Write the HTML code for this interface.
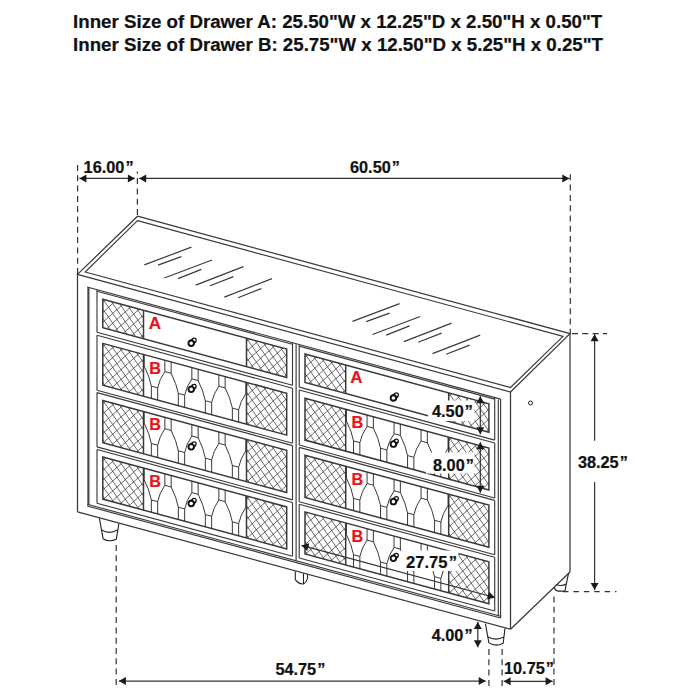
<!DOCTYPE html>
<html><head><meta charset="utf-8"><style>
html,body{margin:0;padding:0;background:#fff;width:700px;height:700px;overflow:hidden}
svg{display:block}
text{font-family:"Liberation Sans",sans-serif;font-weight:bold;stroke-width:0.22px}
</style></head><body>
<svg width="700" height="700" viewBox="0 0 700 700">
<defs><clipPath id="cl1"><polygon points="102.8,299.18 143.5,310.21 143.5,338.71 102.8,327.68"/></clipPath><clipPath id="cl2"><polygon points="246.5,338.13 286.7,349.02 286.7,377.52 246.5,366.63"/></clipPath><clipPath id="cl3"><polygon points="102.8,343.38 143.5,354.41 143.5,396.31 102.8,385.28"/></clipPath><clipPath id="cl4"><polygon points="246.5,382.33 286.7,393.22 286.7,435.12 246.5,424.23"/></clipPath><clipPath id="cl5"><polygon points="143.5,354.41 246.5,382.33 246.5,424.23 143.5,396.31"/></clipPath><clipPath id="cl6"><polygon points="102.8,400.48 143.5,411.51 143.5,453.71 102.8,442.68"/></clipPath><clipPath id="cl7"><polygon points="246.5,439.43 286.7,450.32 286.7,492.52 246.5,481.63"/></clipPath><clipPath id="cl8"><polygon points="143.5,411.51 246.5,439.43 246.5,481.63 143.5,453.71"/></clipPath><clipPath id="cl9"><polygon points="102.8,457.08 143.5,468.11 143.5,510.11 102.8,499.08"/></clipPath><clipPath id="cl10"><polygon points="246.5,496.03 286.7,506.92 286.7,548.92 246.5,538.03"/></clipPath><clipPath id="cl11"><polygon points="143.5,468.11 246.5,496.03 246.5,538.03 143.5,510.11"/></clipPath><clipPath id="cl12"><polygon points="305,353.98 345.7,365.01 345.7,393.51 305,382.48"/></clipPath><clipPath id="cl13"><polygon points="448.7,392.92 488.9,403.82 488.9,432.32 448.7,421.42"/></clipPath><clipPath id="cl14"><polygon points="305,398.18 345.7,409.21 345.7,451.11 305,440.08"/></clipPath><clipPath id="cl15"><polygon points="448.7,437.12 488.9,448.02 488.9,489.92 448.7,479.02"/></clipPath><clipPath id="cl16"><polygon points="345.7,409.21 448.7,437.12 448.7,479.02 345.7,451.11"/></clipPath><clipPath id="cl17"><polygon points="305,455.28 345.7,466.31 345.7,508.51 305,497.48"/></clipPath><clipPath id="cl18"><polygon points="448.7,494.22 488.9,505.12 488.9,547.32 448.7,536.42"/></clipPath><clipPath id="cl19"><polygon points="345.7,466.31 448.7,494.22 448.7,536.42 345.7,508.51"/></clipPath><clipPath id="cl20"><polygon points="305,511.88 345.7,522.91 345.7,564.91 305,553.88"/></clipPath><clipPath id="cl21"><polygon points="448.7,550.82 488.9,561.72 488.9,603.72 448.7,592.82"/></clipPath><clipPath id="cl22"><polygon points="345.7,522.91 448.7,550.82 448.7,592.82 345.7,564.91"/></clipPath></defs>
<polygon points="137.5,216.2 570,333.6 510.5,392 77.5,274.4" fill="none" stroke="#3a3a3a" stroke-width="1.265" stroke-linejoin="miter"/>
<polygon points="137.5,220.6 563,336.4 510.5,387.5 85.2,272" fill="none" stroke="#3a3a3a" stroke-width="1.15" stroke-linejoin="miter"/>
<line x1="144.3" y1="264.9" x2="191.4" y2="247.1" stroke="#3a3a3a" stroke-width="1.15" />
<line x1="158" y1="265.1" x2="181.4" y2="256.6" stroke="#3a3a3a" stroke-width="1.15" />
<line x1="164.3" y1="278" x2="212" y2="260" stroke="#3a3a3a" stroke-width="1.15" />
<line x1="178" y1="278.6" x2="201.4" y2="269.4" stroke="#3a3a3a" stroke-width="1.15" />
<line x1="195.7" y1="285.1" x2="243.4" y2="266.6" stroke="#3a3a3a" stroke-width="1.15" />
<line x1="210" y1="285.7" x2="233.4" y2="276.6" stroke="#3a3a3a" stroke-width="1.15" />
<line x1="224.3" y1="297.1" x2="272" y2="278.6" stroke="#3a3a3a" stroke-width="1.15" />
<line x1="238" y1="297.7" x2="261.4" y2="288.6" stroke="#3a3a3a" stroke-width="1.15" />
<line x1="352.5" y1="321.4" x2="399.6" y2="303.6" stroke="#3a3a3a" stroke-width="1.15" />
<line x1="366.2" y1="321.6" x2="389.6" y2="313.1" stroke="#3a3a3a" stroke-width="1.15" />
<line x1="372.5" y1="334.5" x2="420.2" y2="316.5" stroke="#3a3a3a" stroke-width="1.15" />
<line x1="386.2" y1="335.1" x2="409.6" y2="325.9" stroke="#3a3a3a" stroke-width="1.15" />
<line x1="403.9" y1="341.6" x2="451.6" y2="323.1" stroke="#3a3a3a" stroke-width="1.15" />
<line x1="418.2" y1="342.2" x2="441.6" y2="333.1" stroke="#3a3a3a" stroke-width="1.15" />
<line x1="432.5" y1="353.6" x2="480.2" y2="335.1" stroke="#3a3a3a" stroke-width="1.15" />
<line x1="446.2" y1="354.2" x2="469.6" y2="345.1" stroke="#3a3a3a" stroke-width="1.15" />
<line x1="77.5" y1="274.43" x2="77.5" y2="511.83" stroke="#3a3a3a" stroke-width="1.265" />
<line x1="510.5" y1="391.77" x2="510.5" y2="629.17" stroke="#3a3a3a" stroke-width="1.265" />
<line x1="77.5" y1="511.83" x2="510.5" y2="629.17" stroke="#3a3a3a" stroke-width="1.265" />
<line x1="570" y1="333.6" x2="570" y2="572" stroke="#3a3a3a" stroke-width="1.265" />
<line x1="510.5" y1="629.17" x2="570" y2="572" stroke="#3a3a3a" stroke-width="1.265" />
<circle cx="530.5" cy="403" r="2" fill="none" stroke="#222" stroke-width="1"/>
<line x1="88.4" y1="287.38" x2="88.4" y2="505.38" stroke="#4a4a4a" stroke-width="2.1849999999999996" />
<line x1="87.1" y1="287.03" x2="500.6" y2="399.09" stroke="#3a3a3a" stroke-width="1.15" />
<line x1="500.6" y1="399.09" x2="500.6" y2="617.99" stroke="#3a3a3a" stroke-width="1.15" />
<line x1="498.3" y1="399.46" x2="498.3" y2="616.16" stroke="#3a3a3a" stroke-width="1.15" />
<line x1="87.1" y1="504.23" x2="500.6" y2="616.29" stroke="#3a3a3a" stroke-width="1.15" />
<line x1="87.1" y1="505.93" x2="500.6" y2="617.99" stroke="#3a3a3a" stroke-width="1.15" />
<line x1="296.1" y1="344.17" x2="296.1" y2="560.87" stroke="#3a3a3a" stroke-width="1.15" />
<line x1="97" y1="289.71" x2="97" y2="332.31" stroke="#3a3a3a" stroke-width="1.15" />
<line x1="292.5" y1="342.69" x2="292.5" y2="385.29" stroke="#3a3a3a" stroke-width="1.15" />
<line x1="97" y1="291.31" x2="292.5" y2="344.29" stroke="#3a3a3a" stroke-width="1.15" />
<line x1="97" y1="332.31" x2="292.5" y2="385.29" stroke="#3a3a3a" stroke-width="1.15" />
<path d="M100.8,227.66L145.5,291.92M100.8,237.46L145.5,301.72M100.8,247.26L145.5,311.52M100.8,257.06L145.5,321.32M100.8,266.86L145.5,331.12M100.8,276.66L145.5,340.92M100.8,286.46L145.5,350.72M100.8,296.26L145.5,360.52M100.8,306.06L145.5,370.32M100.8,315.86L145.5,380.12M100.8,325.66L145.5,389.92M100.8,335.46L145.5,399.72M100.8,345.26L145.5,409.52M100.8,284.82L145.5,244.79M100.8,294.62L145.5,254.59M100.8,304.42L145.5,264.39M100.8,314.22L145.5,274.19M100.8,324.02L145.5,283.99M100.8,333.82L145.5,293.79M100.8,343.62L145.5,303.59M100.8,353.42L145.5,313.39M100.8,363.22L145.5,323.19M100.8,373.02L145.5,332.99M100.8,382.82L145.5,342.79M100.8,392.62L145.5,352.59" stroke="#3a3a3a" stroke-width="0.75" fill="none" clip-path="url(#cl1)"/>
<path d="M244.5,266.6L288.7,330.15M244.5,276.4L288.7,339.95M244.5,286.2L288.7,349.75M244.5,296L288.7,359.55M244.5,305.8L288.7,369.35M244.5,315.6L288.7,379.15M244.5,325.4L288.7,388.95M244.5,335.2L288.7,398.75M244.5,345L288.7,408.55M244.5,354.8L288.7,418.35M244.5,364.6L288.7,428.15M244.5,374.4L288.7,437.95M244.5,384.2L288.7,447.75M244.5,323.77L288.7,284.18M244.5,333.57L288.7,293.98M244.5,343.37L288.7,303.78M244.5,353.17L288.7,313.58M244.5,362.97L288.7,323.38M244.5,372.77L288.7,333.18M244.5,382.57L288.7,342.98M244.5,392.37L288.7,352.78M244.5,402.17L288.7,362.58M244.5,411.97L288.7,372.38M244.5,421.77L288.7,382.18M244.5,431.57L288.7,391.98" stroke="#3a3a3a" stroke-width="0.75" fill="none" clip-path="url(#cl2)"/>
<polygon points="102.8,299.18 286.7,349.02 286.7,377.52 102.8,327.68" fill="none" stroke="#3a3a3a" stroke-width="1.4949999999999999" stroke-linejoin="miter"/>
<line x1="143.5" y1="310.21" x2="143.5" y2="338.71" stroke="#3a3a3a" stroke-width="1.4949999999999999" />
<line x1="246.5" y1="338.13" x2="246.5" y2="366.63" stroke="#3a3a3a" stroke-width="1.4949999999999999" />
<circle cx="194.2" cy="340.14" r="1.95" fill="#fff" stroke="#111" stroke-width="1.25"/>
<path d="M193.18,345.15L195.6,341.5M189.22,341.33L192.8,338.78" stroke="#111" stroke-width="1.25" fill="none"/>
<circle cx="191.2" cy="343.24" r="2.75" fill="#fff" stroke="#111" stroke-width="1.9"/>
<line x1="97" y1="335.21" x2="97" y2="390.21" stroke="#3a3a3a" stroke-width="1.15" />
<line x1="292.5" y1="388.19" x2="292.5" y2="443.19" stroke="#3a3a3a" stroke-width="1.15" />
<line x1="97" y1="335.21" x2="292.5" y2="388.19" stroke="#3a3a3a" stroke-width="1.15" />
<line x1="97" y1="390.21" x2="292.5" y2="443.19" stroke="#3a3a3a" stroke-width="1.15" />
<path d="M100.8,271.86L145.5,336.12M100.8,281.66L145.5,345.92M100.8,291.46L145.5,355.72M100.8,301.26L145.5,365.52M100.8,311.06L145.5,375.32M100.8,320.86L145.5,385.12M100.8,330.66L145.5,394.92M100.8,340.46L145.5,404.72M100.8,350.26L145.5,414.52M100.8,360.06L145.5,424.32M100.8,369.86L145.5,434.12M100.8,379.66L145.5,443.92M100.8,389.46L145.5,453.72M100.8,399.26L145.5,463.52M100.8,329.02L145.5,288.99M100.8,338.82L145.5,298.79M100.8,348.62L145.5,308.59M100.8,358.42L145.5,318.39M100.8,368.22L145.5,328.19M100.8,378.02L145.5,337.99M100.8,387.82L145.5,347.79M100.8,397.62L145.5,357.59M100.8,407.42L145.5,367.39M100.8,417.22L145.5,377.19M100.8,427.02L145.5,386.99M100.8,436.82L145.5,396.79M100.8,446.62L145.5,406.59M100.8,456.42L145.5,416.39" stroke="#3a3a3a" stroke-width="0.75" fill="none" clip-path="url(#cl3)"/>
<path d="M244.5,310.8L288.7,374.35M244.5,320.6L288.7,384.15M244.5,330.4L288.7,393.95M244.5,340.2L288.7,403.75M244.5,350L288.7,413.55M244.5,359.8L288.7,423.35M244.5,369.6L288.7,433.15M244.5,379.4L288.7,442.95M244.5,389.2L288.7,452.75M244.5,399L288.7,462.55M244.5,408.8L288.7,472.35M244.5,418.6L288.7,482.15M244.5,428.4L288.7,491.95M244.5,438.2L288.7,501.75M244.5,367.97L288.7,328.38M244.5,377.77L288.7,338.18M244.5,387.57L288.7,347.98M244.5,397.37L288.7,357.78M244.5,407.17L288.7,367.58M244.5,416.97L288.7,377.38M244.5,426.77L288.7,387.18M244.5,436.57L288.7,396.98M244.5,446.37L288.7,406.78M244.5,456.17L288.7,416.58M244.5,465.97L288.7,426.38M244.5,475.77L288.7,436.18M244.5,485.57L288.7,445.98" stroke="#3a3a3a" stroke-width="0.75" fill="none" clip-path="url(#cl4)"/>
<polygon points="102.8,343.38 286.7,393.22 286.7,435.12 102.8,385.28" fill="none" stroke="#3a3a3a" stroke-width="1.4949999999999999" stroke-linejoin="miter"/>
<line x1="143.5" y1="354.41" x2="143.5" y2="396.31" stroke="#3a3a3a" stroke-width="1.4949999999999999" />
<line x1="246.5" y1="382.33" x2="246.5" y2="424.23" stroke="#3a3a3a" stroke-width="1.4949999999999999" />
<path d="M137.85,352.88L137.85,364.28M144.15,354.59L144.15,365.99M137.85,364.28L144.15,365.99M164.85,360.2L164.85,371.6M171.15,361.91L171.15,373.31M164.85,371.6L171.15,373.31M191.85,367.52L191.85,378.92M198.15,369.22L198.15,380.62M191.85,378.92L198.15,380.62M218.85,374.83L218.85,386.23M225.15,376.54L225.15,387.94M218.85,386.23L225.15,387.94M245.85,382.15L245.85,393.55M252.15,383.86L252.15,395.26M245.85,393.55L252.15,395.26M151.35,386.14L151.35,398.44M157.65,387.85L157.65,400.15M151.35,386.14L157.65,387.85M178.35,393.46L178.35,405.76M184.65,395.16L184.65,407.46M178.35,393.46L184.65,395.16M205.35,400.77L205.35,413.07M211.65,402.48L211.65,414.78M205.35,400.77L211.65,402.48M232.35,408.09L232.35,420.39M238.65,409.8L238.65,422.1M232.35,408.09L238.65,409.8M137.85,364.28Q132.45,371.92 130.65,380.53M144.15,365.99Q149.55,376.55 151.35,386.14M164.85,371.6Q159.45,379.24 157.65,387.85M171.15,373.31Q176.55,383.87 178.35,393.46M191.85,378.92Q186.45,386.55 184.65,395.16M198.15,380.62Q203.55,391.19 205.35,400.77M218.85,386.23Q213.45,393.87 211.65,402.48M225.15,387.94Q230.55,398.5 232.35,408.09M245.85,393.55Q240.45,401.19 238.65,409.8M252.15,395.26Q257.55,405.82 259.35,415.41" stroke="#222" stroke-width="0.9" fill="none" clip-path="url(#cl5)"/>
<circle cx="194.2" cy="386.24" r="1.95" fill="#fff" stroke="#111" stroke-width="1.25"/>
<path d="M193.18,391.25L195.6,387.6M189.22,387.43L192.8,384.88" stroke="#111" stroke-width="1.25" fill="none"/>
<circle cx="191.2" cy="389.34" r="2.75" fill="#fff" stroke="#111" stroke-width="1.9"/>
<line x1="97" y1="392.61" x2="97" y2="446.91" stroke="#3a3a3a" stroke-width="1.15" />
<line x1="292.5" y1="445.59" x2="292.5" y2="499.89" stroke="#3a3a3a" stroke-width="1.15" />
<line x1="97" y1="392.61" x2="292.5" y2="445.59" stroke="#3a3a3a" stroke-width="1.15" />
<line x1="97" y1="446.91" x2="292.5" y2="499.89" stroke="#3a3a3a" stroke-width="1.15" />
<path d="M100.8,328.96L145.5,393.22M100.8,338.76L145.5,403.02M100.8,348.56L145.5,412.82M100.8,358.36L145.5,422.62M100.8,368.16L145.5,432.42M100.8,377.96L145.5,442.22M100.8,387.76L145.5,452.02M100.8,397.56L145.5,461.82M100.8,407.36L145.5,471.62M100.8,417.16L145.5,481.42M100.8,426.96L145.5,491.22M100.8,436.76L145.5,501.02M100.8,446.56L145.5,510.82M100.8,456.36L145.5,520.62M100.8,386.12L145.5,346.09M100.8,395.92L145.5,355.89M100.8,405.72L145.5,365.69M100.8,415.52L145.5,375.49M100.8,425.32L145.5,385.29M100.8,435.12L145.5,395.09M100.8,444.92L145.5,404.89M100.8,454.72L145.5,414.69M100.8,464.52L145.5,424.49M100.8,474.32L145.5,434.29M100.8,484.12L145.5,444.09M100.8,493.92L145.5,453.89M100.8,503.72L145.5,463.69M100.8,513.52L145.5,473.49" stroke="#3a3a3a" stroke-width="0.75" fill="none" clip-path="url(#cl6)"/>
<path d="M244.5,367.9L288.7,431.45M244.5,377.7L288.7,441.25M244.5,387.5L288.7,451.05M244.5,397.3L288.7,460.85M244.5,407.1L288.7,470.65M244.5,416.9L288.7,480.45M244.5,426.7L288.7,490.25M244.5,436.5L288.7,500.05M244.5,446.3L288.7,509.85M244.5,456.1L288.7,519.65M244.5,465.9L288.7,529.45M244.5,475.7L288.7,539.25M244.5,485.5L288.7,549.05M244.5,495.3L288.7,558.85M244.5,425.07L288.7,385.48M244.5,434.87L288.7,395.28M244.5,444.67L288.7,405.08M244.5,454.47L288.7,414.88M244.5,464.27L288.7,424.68M244.5,474.07L288.7,434.48M244.5,483.87L288.7,444.28M244.5,493.67L288.7,454.08M244.5,503.47L288.7,463.88M244.5,513.27L288.7,473.68M244.5,523.07L288.7,483.48M244.5,532.87L288.7,493.28M244.5,542.67L288.7,503.08" stroke="#3a3a3a" stroke-width="0.75" fill="none" clip-path="url(#cl7)"/>
<polygon points="102.8,400.48 286.7,450.32 286.7,492.52 102.8,442.68" fill="none" stroke="#3a3a3a" stroke-width="1.4949999999999999" stroke-linejoin="miter"/>
<line x1="143.5" y1="411.51" x2="143.5" y2="453.71" stroke="#3a3a3a" stroke-width="1.4949999999999999" />
<line x1="246.5" y1="439.43" x2="246.5" y2="481.63" stroke="#3a3a3a" stroke-width="1.4949999999999999" />
<path d="M137.85,409.98L137.85,421.38M144.15,411.69L144.15,423.09M137.85,421.38L144.15,423.09M164.85,417.3L164.85,428.7M171.15,419.01L171.15,430.41M164.85,428.7L171.15,430.41M191.85,424.62L191.85,436.02M198.15,426.32L198.15,437.72M191.85,436.02L198.15,437.72M218.85,431.93L218.85,443.33M225.15,433.64L225.15,445.04M218.85,443.33L225.15,445.04M245.85,439.25L245.85,450.65M252.15,440.96L252.15,452.36M245.85,450.65L252.15,452.36M151.35,443.54L151.35,455.84M157.65,445.25L157.65,457.55M151.35,443.54L157.65,445.25M178.35,450.86L178.35,463.16M184.65,452.56L184.65,464.86M178.35,450.86L184.65,452.56M205.35,458.17L205.35,470.47M211.65,459.88L211.65,472.18M205.35,458.17L211.65,459.88M232.35,465.49L232.35,477.79M238.65,467.2L238.65,479.5M232.35,465.49L238.65,467.2M137.85,421.38Q132.45,429.17 130.65,437.93M144.15,423.09Q149.55,433.8 151.35,443.54M164.85,428.7Q159.45,436.49 157.65,445.25M171.15,430.41Q176.55,441.12 178.35,450.86M191.85,436.02Q186.45,443.8 184.65,452.56M198.15,437.72Q203.55,448.44 205.35,458.17M218.85,443.33Q213.45,451.12 211.65,459.88M225.15,445.04Q230.55,455.75 232.35,465.49M245.85,450.65Q240.45,458.44 238.65,467.2M252.15,452.36Q257.55,463.07 259.35,472.81" stroke="#222" stroke-width="0.9" fill="none" clip-path="url(#cl8)"/>
<circle cx="194.2" cy="443.74" r="1.95" fill="#fff" stroke="#111" stroke-width="1.25"/>
<path d="M193.18,448.75L195.6,445.1M189.22,444.93L192.8,442.38" stroke="#111" stroke-width="1.25" fill="none"/>
<circle cx="191.2" cy="446.84" r="2.75" fill="#fff" stroke="#111" stroke-width="1.9"/>
<line x1="97" y1="449.51" x2="97" y2="503.21" stroke="#3a3a3a" stroke-width="1.15" />
<line x1="292.5" y1="502.49" x2="292.5" y2="556.19" stroke="#3a3a3a" stroke-width="1.15" />
<line x1="97" y1="449.51" x2="292.5" y2="502.49" stroke="#3a3a3a" stroke-width="1.15" />
<line x1="97" y1="503.21" x2="292.5" y2="556.19" stroke="#3a3a3a" stroke-width="1.15" />
<path d="M100.8,385.56L145.5,449.82M100.8,395.36L145.5,459.62M100.8,405.16L145.5,469.42M100.8,414.96L145.5,479.22M100.8,424.76L145.5,489.02M100.8,434.56L145.5,498.82M100.8,444.36L145.5,508.62M100.8,454.16L145.5,518.42M100.8,463.96L145.5,528.22M100.8,473.76L145.5,538.02M100.8,483.56L145.5,547.82M100.8,493.36L145.5,557.62M100.8,503.16L145.5,567.42M100.8,512.96L145.5,577.22M100.8,442.72L145.5,402.69M100.8,452.52L145.5,412.49M100.8,462.32L145.5,422.29M100.8,472.12L145.5,432.09M100.8,481.92L145.5,441.89M100.8,491.72L145.5,451.69M100.8,501.52L145.5,461.49M100.8,511.32L145.5,471.29M100.8,521.12L145.5,481.09M100.8,530.92L145.5,490.89M100.8,540.72L145.5,500.69M100.8,550.52L145.5,510.49M100.8,560.32L145.5,520.29M100.8,570.12L145.5,530.09" stroke="#3a3a3a" stroke-width="0.75" fill="none" clip-path="url(#cl9)"/>
<path d="M244.5,424.5L288.7,488.05M244.5,434.3L288.7,497.85M244.5,444.1L288.7,507.65M244.5,453.9L288.7,517.45M244.5,463.7L288.7,527.25M244.5,473.5L288.7,537.05M244.5,483.3L288.7,546.85M244.5,493.1L288.7,556.65M244.5,502.9L288.7,566.45M244.5,512.7L288.7,576.25M244.5,522.5L288.7,586.05M244.5,532.3L288.7,595.85M244.5,542.1L288.7,605.65M244.5,551.9L288.7,615.45M244.5,481.67L288.7,442.08M244.5,491.47L288.7,451.88M244.5,501.27L288.7,461.68M244.5,511.07L288.7,471.48M244.5,520.87L288.7,481.28M244.5,530.67L288.7,491.08M244.5,540.47L288.7,500.88M244.5,550.27L288.7,510.68M244.5,560.07L288.7,520.48M244.5,569.87L288.7,530.28M244.5,579.67L288.7,540.08M244.5,589.47L288.7,549.88M244.5,599.27L288.7,559.68" stroke="#3a3a3a" stroke-width="0.75" fill="none" clip-path="url(#cl10)"/>
<polygon points="102.8,457.08 286.7,506.92 286.7,548.92 102.8,499.08" fill="none" stroke="#3a3a3a" stroke-width="1.4949999999999999" stroke-linejoin="miter"/>
<line x1="143.5" y1="468.11" x2="143.5" y2="510.11" stroke="#3a3a3a" stroke-width="1.4949999999999999" />
<line x1="246.5" y1="496.03" x2="246.5" y2="538.03" stroke="#3a3a3a" stroke-width="1.4949999999999999" />
<path d="M137.85,466.58L137.85,477.98M144.15,468.29L144.15,479.69M137.85,477.98L144.15,479.69M164.85,473.9L164.85,485.3M171.15,475.61L171.15,487.01M164.85,485.3L171.15,487.01M191.85,481.22L191.85,492.62M198.15,482.92L198.15,494.32M191.85,492.62L198.15,494.32M218.85,488.53L218.85,499.93M225.15,490.24L225.15,501.64M218.85,499.93L225.15,501.64M245.85,495.85L245.85,507.25M252.15,497.56L252.15,508.96M245.85,507.25L252.15,508.96M151.35,499.94L151.35,512.24M157.65,501.65L157.65,513.95M151.35,499.94L157.65,501.65M178.35,507.26L178.35,519.56M184.65,508.96L184.65,521.26M178.35,507.26L184.65,508.96M205.35,514.57L205.35,526.87M211.65,516.28L211.65,528.58M205.35,514.57L211.65,516.28M232.35,521.89L232.35,534.19M238.65,523.6L238.65,535.9M232.35,521.89L238.65,523.6M137.85,477.98Q132.45,485.67 130.65,494.33M144.15,479.69Q149.55,490.3 151.35,499.94M164.85,485.3Q159.45,492.99 157.65,501.65M171.15,487.01Q176.55,497.62 178.35,507.26M191.85,492.62Q186.45,500.3 184.65,508.96M198.15,494.32Q203.55,504.94 205.35,514.57M218.85,499.93Q213.45,507.62 211.65,516.28M225.15,501.64Q230.55,512.25 232.35,521.89M245.85,507.25Q240.45,514.94 238.65,523.6M252.15,508.96Q257.55,519.57 259.35,529.21" stroke="#222" stroke-width="0.9" fill="none" clip-path="url(#cl11)"/>
<circle cx="194.2" cy="500.44" r="1.95" fill="#fff" stroke="#111" stroke-width="1.25"/>
<path d="M193.18,505.45L195.6,501.8M189.22,501.63L192.8,499.08" stroke="#111" stroke-width="1.25" fill="none"/>
<circle cx="191.2" cy="503.54" r="2.75" fill="#fff" stroke="#111" stroke-width="1.9"/>
<line x1="299.2" y1="344.51" x2="299.2" y2="387.11" stroke="#3a3a3a" stroke-width="1.15" />
<line x1="494.7" y1="397.49" x2="494.7" y2="440.09" stroke="#3a3a3a" stroke-width="1.15" />
<line x1="299.2" y1="346.11" x2="494.7" y2="399.09" stroke="#3a3a3a" stroke-width="1.15" />
<line x1="299.2" y1="387.11" x2="494.7" y2="440.09" stroke="#3a3a3a" stroke-width="1.15" />
<path d="M303,282.45L347.7,346.72M303,292.25L347.7,356.52M303,302.05L347.7,366.32M303,311.85L347.7,376.12M303,321.65L347.7,385.92M303,331.45L347.7,395.72M303,341.25L347.7,405.52M303,351.05L347.7,415.32M303,360.85L347.7,425.12M303,370.65L347.7,434.92M303,380.45L347.7,444.72M303,390.25L347.7,454.52M303,400.05L347.7,464.32M303,339.62L347.7,299.58M303,349.42L347.7,309.38M303,359.22L347.7,319.18M303,369.02L347.7,328.98M303,378.82L347.7,338.78M303,388.62L347.7,348.58M303,398.42L347.7,358.38M303,408.22L347.7,368.18M303,418.02L347.7,377.98M303,427.82L347.7,387.78M303,437.62L347.7,397.58M303,447.42L347.7,407.38" stroke="#3a3a3a" stroke-width="0.75" fill="none" clip-path="url(#cl12)"/>
<path d="M446.7,321.4L490.9,384.94M446.7,331.2L490.9,394.74M446.7,341L490.9,404.54M446.7,350.8L490.9,414.34M446.7,360.6L490.9,424.14M446.7,370.4L490.9,433.94M446.7,380.2L490.9,443.74M446.7,390L490.9,453.54M446.7,399.8L490.9,463.34M446.7,409.6L490.9,473.14M446.7,419.4L490.9,482.94M446.7,429.2L490.9,492.74M446.7,439L490.9,502.54M446.7,378.56L490.9,338.98M446.7,388.36L490.9,348.78M446.7,398.16L490.9,358.58M446.7,407.96L490.9,368.38M446.7,417.76L490.9,378.18M446.7,427.56L490.9,387.98M446.7,437.36L490.9,397.78M446.7,447.16L490.9,407.58M446.7,456.96L490.9,417.38M446.7,466.76L490.9,427.18M446.7,476.56L490.9,436.98M446.7,486.36L490.9,446.78" stroke="#3a3a3a" stroke-width="0.75" fill="none" clip-path="url(#cl13)"/>
<polygon points="305,353.98 488.9,403.82 488.9,432.32 305,382.48" fill="none" stroke="#3a3a3a" stroke-width="1.4949999999999999" stroke-linejoin="miter"/>
<line x1="345.7" y1="365.01" x2="345.7" y2="393.51" stroke="#3a3a3a" stroke-width="1.4949999999999999" />
<line x1="448.7" y1="392.92" x2="448.7" y2="421.42" stroke="#3a3a3a" stroke-width="1.4949999999999999" />
<circle cx="396.4" cy="394.94" r="1.95" fill="#fff" stroke="#111" stroke-width="1.25"/>
<path d="M395.38,399.95L397.8,396.29M391.42,396.12L395,393.58" stroke="#111" stroke-width="1.25" fill="none"/>
<circle cx="393.4" cy="398.04" r="2.75" fill="#fff" stroke="#111" stroke-width="1.9"/>
<line x1="299.2" y1="390.01" x2="299.2" y2="445.01" stroke="#3a3a3a" stroke-width="1.15" />
<line x1="494.7" y1="442.99" x2="494.7" y2="497.99" stroke="#3a3a3a" stroke-width="1.15" />
<line x1="299.2" y1="390.01" x2="494.7" y2="442.99" stroke="#3a3a3a" stroke-width="1.15" />
<line x1="299.2" y1="445.01" x2="494.7" y2="497.99" stroke="#3a3a3a" stroke-width="1.15" />
<path d="M303,326.65L347.7,390.92M303,336.45L347.7,400.72M303,346.25L347.7,410.52M303,356.05L347.7,420.32M303,365.85L347.7,430.12M303,375.65L347.7,439.92M303,385.45L347.7,449.72M303,395.25L347.7,459.52M303,405.05L347.7,469.32M303,414.85L347.7,479.12M303,424.65L347.7,488.92M303,434.45L347.7,498.72M303,444.25L347.7,508.52M303,454.05L347.7,518.32M303,383.82L347.7,343.78M303,393.62L347.7,353.58M303,403.42L347.7,363.38M303,413.22L347.7,373.18M303,423.02L347.7,382.98M303,432.82L347.7,392.78M303,442.62L347.7,402.58M303,452.42L347.7,412.38M303,462.22L347.7,422.18M303,472.02L347.7,431.98M303,481.82L347.7,441.78M303,491.62L347.7,451.58M303,501.42L347.7,461.38M303,511.22L347.7,471.18" stroke="#3a3a3a" stroke-width="0.75" fill="none" clip-path="url(#cl14)"/>
<path d="M446.7,365.6L490.9,429.14M446.7,375.4L490.9,438.94M446.7,385.2L490.9,448.74M446.7,395L490.9,458.54M446.7,404.8L490.9,468.34M446.7,414.6L490.9,478.14M446.7,424.4L490.9,487.94M446.7,434.2L490.9,497.74M446.7,444L490.9,507.54M446.7,453.8L490.9,517.34M446.7,463.6L490.9,527.14M446.7,473.4L490.9,536.94M446.7,483.2L490.9,546.74M446.7,493L490.9,556.54M446.7,422.76L490.9,383.18M446.7,432.56L490.9,392.98M446.7,442.36L490.9,402.78M446.7,452.16L490.9,412.58M446.7,461.96L490.9,422.38M446.7,471.76L490.9,432.18M446.7,481.56L490.9,441.98M446.7,491.36L490.9,451.78M446.7,501.16L490.9,461.58M446.7,510.96L490.9,471.38M446.7,520.76L490.9,481.18M446.7,530.56L490.9,490.98M446.7,540.36L490.9,500.78" stroke="#3a3a3a" stroke-width="0.75" fill="none" clip-path="url(#cl15)"/>
<polygon points="305,398.18 488.9,448.02 488.9,489.92 305,440.08" fill="none" stroke="#3a3a3a" stroke-width="1.4949999999999999" stroke-linejoin="miter"/>
<line x1="345.7" y1="409.21" x2="345.7" y2="451.11" stroke="#3a3a3a" stroke-width="1.4949999999999999" />
<line x1="448.7" y1="437.12" x2="448.7" y2="479.02" stroke="#3a3a3a" stroke-width="1.4949999999999999" />
<path d="M340.05,407.68L340.05,419.08M346.35,409.39L346.35,420.79M340.05,419.08L346.35,420.79M367.05,415L367.05,426.4M373.35,416.7L373.35,428.1M367.05,426.4L373.35,428.1M394.05,422.31L394.05,433.71M400.35,424.02L400.35,435.42M394.05,433.71L400.35,435.42M421.05,429.63L421.05,441.03M427.35,431.34L427.35,442.74M421.05,441.03L427.35,442.74M448.05,436.95L448.05,448.35M454.35,438.65L454.35,450.05M448.05,448.35L454.35,450.05M353.55,440.94L353.55,453.24M359.85,442.64L359.85,454.94M353.55,440.94L359.85,442.64M380.55,448.25L380.55,460.55M386.85,449.96L386.85,462.26M380.55,448.25L386.85,449.96M407.55,455.57L407.55,467.87M413.85,457.28L413.85,469.58M407.55,455.57L413.85,457.28M434.55,462.89L434.55,475.19M440.85,464.59L440.85,476.89M434.55,462.89L440.85,464.59M340.05,419.08Q334.65,426.71 332.85,435.33M346.35,420.79Q351.75,431.35 353.55,440.94M367.05,426.4Q361.65,434.03 359.85,442.64M373.35,428.1Q378.75,438.67 380.55,448.25M394.05,433.71Q388.65,441.35 386.85,449.96M400.35,435.42Q405.75,445.98 407.55,455.57M421.05,441.03Q415.65,448.67 413.85,457.28M427.35,442.74Q432.75,453.3 434.55,462.89M448.05,448.35Q442.65,455.98 440.85,464.59M454.35,450.05Q459.75,460.62 461.55,470.2" stroke="#222" stroke-width="0.9" fill="none" clip-path="url(#cl16)"/>
<circle cx="396.4" cy="441.04" r="1.95" fill="#fff" stroke="#111" stroke-width="1.25"/>
<path d="M395.38,446.05L397.8,442.39M391.42,442.22L395,439.68" stroke="#111" stroke-width="1.25" fill="none"/>
<circle cx="393.4" cy="444.14" r="2.75" fill="#fff" stroke="#111" stroke-width="1.9"/>
<line x1="299.2" y1="447.41" x2="299.2" y2="501.71" stroke="#3a3a3a" stroke-width="1.15" />
<line x1="494.7" y1="500.39" x2="494.7" y2="554.69" stroke="#3a3a3a" stroke-width="1.15" />
<line x1="299.2" y1="447.41" x2="494.7" y2="500.39" stroke="#3a3a3a" stroke-width="1.15" />
<line x1="299.2" y1="501.71" x2="494.7" y2="554.69" stroke="#3a3a3a" stroke-width="1.15" />
<path d="M303,383.75L347.7,448.02M303,393.55L347.7,457.82M303,403.35L347.7,467.62M303,413.15L347.7,477.42M303,422.95L347.7,487.22M303,432.75L347.7,497.02M303,442.55L347.7,506.82M303,452.35L347.7,516.62M303,462.15L347.7,526.42M303,471.95L347.7,536.22M303,481.75L347.7,546.02M303,491.55L347.7,555.82M303,501.35L347.7,565.62M303,511.15L347.7,575.42M303,440.92L347.7,400.88M303,450.72L347.7,410.68M303,460.52L347.7,420.48M303,470.32L347.7,430.28M303,480.12L347.7,440.08M303,489.92L347.7,449.88M303,499.72L347.7,459.68M303,509.52L347.7,469.48M303,519.32L347.7,479.28M303,529.12L347.7,489.08M303,538.92L347.7,498.88M303,548.72L347.7,508.68M303,558.52L347.7,518.48M303,568.32L347.7,528.28" stroke="#3a3a3a" stroke-width="0.75" fill="none" clip-path="url(#cl17)"/>
<path d="M446.7,422.7L490.9,486.24M446.7,432.5L490.9,496.04M446.7,442.3L490.9,505.84M446.7,452.1L490.9,515.64M446.7,461.9L490.9,525.44M446.7,471.7L490.9,535.24M446.7,481.5L490.9,545.04M446.7,491.3L490.9,554.84M446.7,501.1L490.9,564.64M446.7,510.9L490.9,574.44M446.7,520.7L490.9,584.24M446.7,530.5L490.9,594.04M446.7,540.3L490.9,603.84M446.7,550.1L490.9,613.64M446.7,479.86L490.9,440.28M446.7,489.66L490.9,450.08M446.7,499.46L490.9,459.88M446.7,509.26L490.9,469.68M446.7,519.06L490.9,479.48M446.7,528.86L490.9,489.28M446.7,538.66L490.9,499.08M446.7,548.46L490.9,508.88M446.7,558.26L490.9,518.68M446.7,568.06L490.9,528.48M446.7,577.86L490.9,538.28M446.7,587.66L490.9,548.08M446.7,597.46L490.9,557.88" stroke="#3a3a3a" stroke-width="0.75" fill="none" clip-path="url(#cl18)"/>
<polygon points="305,455.28 488.9,505.12 488.9,547.32 305,497.48" fill="none" stroke="#3a3a3a" stroke-width="1.4949999999999999" stroke-linejoin="miter"/>
<line x1="345.7" y1="466.31" x2="345.7" y2="508.51" stroke="#3a3a3a" stroke-width="1.4949999999999999" />
<line x1="448.7" y1="494.22" x2="448.7" y2="536.42" stroke="#3a3a3a" stroke-width="1.4949999999999999" />
<path d="M340.05,464.78L340.05,476.18M346.35,466.49L346.35,477.89M340.05,476.18L346.35,477.89M367.05,472.1L367.05,483.5M373.35,473.8L373.35,485.2M367.05,483.5L373.35,485.2M394.05,479.41L394.05,490.81M400.35,481.12L400.35,492.52M394.05,490.81L400.35,492.52M421.05,486.73L421.05,498.13M427.35,488.44L427.35,499.84M421.05,498.13L427.35,499.84M448.05,494.05L448.05,505.45M454.35,495.75L454.35,507.15M448.05,505.45L454.35,507.15M353.55,498.34L353.55,510.64M359.85,500.04L359.85,512.34M353.55,498.34L359.85,500.04M380.55,505.65L380.55,517.95M386.85,507.36L386.85,519.66M380.55,505.65L386.85,507.36M407.55,512.97L407.55,525.27M413.85,514.68L413.85,526.98M407.55,512.97L413.85,514.68M434.55,520.29L434.55,532.59M440.85,521.99L440.85,534.29M434.55,520.29L440.85,521.99M340.05,476.18Q334.65,483.96 332.85,492.73M346.35,477.89Q351.75,488.6 353.55,498.34M367.05,483.5Q361.65,491.28 359.85,500.04M373.35,485.2Q378.75,495.92 380.55,505.65M394.05,490.81Q388.65,498.6 386.85,507.36M400.35,492.52Q405.75,503.23 407.55,512.97M421.05,498.13Q415.65,505.92 413.85,514.68M427.35,499.84Q432.75,510.55 434.55,520.29M448.05,505.45Q442.65,513.23 440.85,521.99M454.35,507.15Q459.75,517.87 461.55,527.6" stroke="#222" stroke-width="0.9" fill="none" clip-path="url(#cl19)"/>
<circle cx="396.4" cy="498.54" r="1.95" fill="#fff" stroke="#111" stroke-width="1.25"/>
<path d="M395.38,503.55L397.8,499.89M391.42,499.72L395,497.18" stroke="#111" stroke-width="1.25" fill="none"/>
<circle cx="393.4" cy="501.64" r="2.75" fill="#fff" stroke="#111" stroke-width="1.9"/>
<line x1="299.2" y1="504.31" x2="299.2" y2="558.01" stroke="#3a3a3a" stroke-width="1.15" />
<line x1="494.7" y1="557.29" x2="494.7" y2="610.99" stroke="#3a3a3a" stroke-width="1.15" />
<line x1="299.2" y1="504.31" x2="494.7" y2="557.29" stroke="#3a3a3a" stroke-width="1.15" />
<line x1="299.2" y1="558.01" x2="494.7" y2="610.99" stroke="#3a3a3a" stroke-width="1.15" />
<path d="M303,440.35L347.7,504.62M303,450.15L347.7,514.42M303,459.95L347.7,524.22M303,469.75L347.7,534.02M303,479.55L347.7,543.82M303,489.35L347.7,553.62M303,499.15L347.7,563.42M303,508.95L347.7,573.22M303,518.75L347.7,583.02M303,528.55L347.7,592.82M303,538.35L347.7,602.62M303,548.15L347.7,612.42M303,557.95L347.7,622.22M303,567.75L347.7,632.02M303,497.52L347.7,457.48M303,507.32L347.7,467.28M303,517.12L347.7,477.08M303,526.92L347.7,486.88M303,536.72L347.7,496.68M303,546.52L347.7,506.48M303,556.32L347.7,516.28M303,566.12L347.7,526.08M303,575.92L347.7,535.88M303,585.72L347.7,545.68M303,595.52L347.7,555.48M303,605.32L347.7,565.28M303,615.12L347.7,575.08M303,624.92L347.7,584.88" stroke="#3a3a3a" stroke-width="0.75" fill="none" clip-path="url(#cl20)"/>
<path d="M446.7,479.3L490.9,542.84M446.7,489.1L490.9,552.64M446.7,498.9L490.9,562.44M446.7,508.7L490.9,572.24M446.7,518.5L490.9,582.04M446.7,528.3L490.9,591.84M446.7,538.1L490.9,601.64M446.7,547.9L490.9,611.44M446.7,557.7L490.9,621.24M446.7,567.5L490.9,631.04M446.7,577.3L490.9,640.84M446.7,587.1L490.9,650.64M446.7,596.9L490.9,660.44M446.7,606.7L490.9,670.24M446.7,536.46L490.9,496.88M446.7,546.26L490.9,506.68M446.7,556.06L490.9,516.48M446.7,565.86L490.9,526.28M446.7,575.66L490.9,536.08M446.7,585.46L490.9,545.88M446.7,595.26L490.9,555.68M446.7,605.06L490.9,565.48M446.7,614.86L490.9,575.28M446.7,624.66L490.9,585.08M446.7,634.46L490.9,594.88M446.7,644.26L490.9,604.68M446.7,654.06L490.9,614.48" stroke="#3a3a3a" stroke-width="0.75" fill="none" clip-path="url(#cl21)"/>
<polygon points="305,511.88 488.9,561.72 488.9,603.72 305,553.88" fill="none" stroke="#3a3a3a" stroke-width="1.4949999999999999" stroke-linejoin="miter"/>
<line x1="345.7" y1="522.91" x2="345.7" y2="564.91" stroke="#3a3a3a" stroke-width="1.4949999999999999" />
<line x1="448.7" y1="550.82" x2="448.7" y2="592.82" stroke="#3a3a3a" stroke-width="1.4949999999999999" />
<path d="M340.05,521.38L340.05,532.78M346.35,523.09L346.35,534.49M340.05,532.78L346.35,534.49M367.05,528.7L367.05,540.1M373.35,530.4L373.35,541.8M367.05,540.1L373.35,541.8M394.05,536.01L394.05,547.41M400.35,537.72L400.35,549.12M394.05,547.41L400.35,549.12M421.05,543.33L421.05,554.73M427.35,545.04L427.35,556.44M421.05,554.73L427.35,556.44M448.05,550.65L448.05,562.05M454.35,552.35L454.35,563.75M448.05,562.05L454.35,563.75M353.55,554.74L353.55,567.04M359.85,556.44L359.85,568.74M353.55,554.74L359.85,556.44M380.55,562.05L380.55,574.35M386.85,563.76L386.85,576.06M380.55,562.05L386.85,563.76M407.55,569.37L407.55,581.67M413.85,571.08L413.85,583.38M407.55,569.37L413.85,571.08M434.55,576.69L434.55,588.99M440.85,578.39L440.85,590.69M434.55,576.69L440.85,578.39M340.05,532.78Q334.65,540.46 332.85,549.13M346.35,534.49Q351.75,545.1 353.55,554.74M367.05,540.1Q361.65,547.78 359.85,556.44M373.35,541.8Q378.75,552.42 380.55,562.05M394.05,547.41Q388.65,555.1 386.85,563.76M400.35,549.12Q405.75,559.73 407.55,569.37M421.05,554.73Q415.65,562.42 413.85,571.08M427.35,556.44Q432.75,567.05 434.55,576.69M448.05,562.05Q442.65,569.73 440.85,578.39M454.35,563.75Q459.75,574.37 461.55,584" stroke="#222" stroke-width="0.9" fill="none" clip-path="url(#cl22)"/>
<circle cx="396.4" cy="555.24" r="1.95" fill="#fff" stroke="#111" stroke-width="1.25"/>
<path d="M395.38,560.25L397.8,556.59M391.42,556.42L395,553.88" stroke="#111" stroke-width="1.25" fill="none"/>
<circle cx="393.4" cy="558.34" r="2.75" fill="#fff" stroke="#111" stroke-width="1.9"/>
<path d="M99.4,518.4 L103.1,538.7 Q108.9,542.6 116.3,539.3 L118.9,523.6 M101.7,529.9Q108.9,534.8 117.4,530.1 M485.4,623.6 L488.9,642.9 Q496,647.2 503.2,643.2 L505,628.2 M487.6,636.8Q495.5,641.4 504,637.1 M568.6,572.9 L564.9,591.1 L557.6,591.1 Q554.6,590 554.3,587.4 M556.3,584.6Q561.4,586.8 566.6,583.7 M295.3,571.5 L295.3,579.7 Q299,584.5 303.5,584 Q306.5,582.5 307.5,578 L307.5,574.6 M303.5,573.5 L303.5,583.5" fill="none" stroke="#222" stroke-width="1.1"/>
<line x1="77.6" y1="165" x2="77.6" y2="274" stroke="#333" stroke-width="1.2" stroke-dasharray="6 4.3" stroke-dashoffset="0"/>
<line x1="137.4" y1="171.4" x2="137.4" y2="216" stroke="#333" stroke-width="1.2" stroke-dasharray="6 4.3" stroke-dashoffset="3.6"/>
<line x1="570.3" y1="174.3" x2="570.3" y2="333" stroke="#333" stroke-width="1.2" stroke-dasharray="6 4.3" stroke-dashoffset="0"/>
<line x1="79.4" y1="178.4" x2="134.9" y2="178.4" stroke="#333" stroke-width="1.2"/>
<polygon points="134.9,178.4 127.9,182.4 127.9,174.4" fill="#1a1a1a"/>
<polygon points="79.4,178.4 86.4,174.4 86.4,182.4" fill="#1a1a1a"/>
<line x1="139.2" y1="178.4" x2="569.3" y2="178.4" stroke="#333" stroke-width="1.2"/>
<polygon points="569.3,178.4 562.3,182.4 562.3,174.4" fill="#1a1a1a"/>
<polygon points="139.2,178.4 146.2,174.4 146.2,182.4" fill="#1a1a1a"/>
<line x1="572" y1="333.6" x2="607" y2="333.6" stroke="#333" stroke-width="1.2" stroke-dasharray="6 4.3"/>
<line x1="563" y1="591.6" x2="616.5" y2="591.6" stroke="#333" stroke-width="1.2" stroke-dasharray="5.5 4.9"/>
<line x1="594.6" y1="440.7" x2="594.6" y2="334.2" stroke="#333" stroke-width="1.2"/>
<polygon points="594.6,334.2 598.6,341.2 590.6,341.2" fill="#1a1a1a"/>
<line x1="594.6" y1="482.1" x2="594.6" y2="590" stroke="#333" stroke-width="1.2"/>
<polygon points="594.6,590 590.6,583 598.6,583" fill="#1a1a1a"/>
<line x1="116.2" y1="545" x2="116.2" y2="686" stroke="#333" stroke-width="1.2" stroke-dasharray="6 4.3" stroke-dashoffset="0"/>
<line x1="488.9" y1="649" x2="488.9" y2="686" stroke="#333" stroke-width="1.2" stroke-dasharray="6 4.3" stroke-dashoffset="0"/>
<line x1="502.1" y1="649" x2="502.1" y2="686" stroke="#333" stroke-width="1.2" stroke-dasharray="6 4.3" stroke-dashoffset="0"/>
<line x1="554" y1="596.5" x2="554" y2="686" stroke="#333" stroke-width="1.2" stroke-dasharray="6 4.3" stroke-dashoffset="0"/>
<line x1="118.9" y1="681.1" x2="485.7" y2="681.1" stroke="#333" stroke-width="1.2"/>
<polygon points="485.7,681.1 478.7,685.1 478.7,677.1" fill="#1a1a1a"/>
<polygon points="118.9,681.1 125.9,677.1 125.9,685.1" fill="#1a1a1a"/>
<line x1="503.6" y1="681.3" x2="552.6" y2="681.3" stroke="#333" stroke-width="1.2"/>
<polygon points="552.6,681.3 545.6,685.3 545.6,677.3" fill="#1a1a1a"/>
<polygon points="503.6,681.3 510.6,677.3 510.6,685.3" fill="#1a1a1a"/>
<line x1="477.8" y1="622.1" x2="477.8" y2="647.3" stroke="#333" stroke-width="1.2"/>
<polygon points="477.8,647.3 473.8,640.3 481.8,640.3" fill="#1a1a1a"/>
<polygon points="477.8,622.1 481.8,629.1 473.8,629.1" fill="#1a1a1a"/>
<text x="73.1" y="28.4" font-size="18.7" fill="#111" stroke="#111" text-anchor="start">Inner Size of Drawer A: 25.50"W x 12.25"D x 2.50"H x 0.50"T</text>
<text x="73.1" y="50.6" font-size="18.7" fill="#111" stroke="#111" text-anchor="start">Inner Size of Drawer B: 25.75"W x 12.50"D x 5.25"H x 0.25"T</text>
<text x="83.6" y="172.9" font-size="16.3" fill="#111" stroke="#111" text-anchor="start">16.00<tspan dx="1.1">”</tspan></text>
<text x="350" y="172.9" font-size="16.3" fill="#111" stroke="#111" text-anchor="start">60.50<tspan dx="1.1">”</tspan></text>
<text x="577.9" y="468.3" font-size="16.3" fill="#111" stroke="#111" text-anchor="start">38.25<tspan dx="1.1">”</tspan></text>
<text x="275.4" y="675.1" font-size="16.3" fill="#111" stroke="#111" text-anchor="start">54.75<tspan dx="1.1">”</tspan></text>
<text x="504" y="673.6" font-size="16.3" fill="#111" stroke="#111" text-anchor="start">10.75<tspan dx="1.1">”</tspan></text>
<text x="431.7" y="641.4" font-size="16.3" fill="#111" stroke="#111" text-anchor="start">4.00<tspan dx="1.1">”</tspan></text>
<rect x="428" y="400.5" width="46.5" height="20.5" fill="#fff"/>
<text x="432" y="416.6" font-size="16.3" fill="#111" stroke="#111" text-anchor="start">4.50<tspan dx="1.1">”</tspan></text>
<rect x="426" y="452.5" width="48.5" height="21" fill="#fff"/>
<text x="433" y="470.5" font-size="16.3" fill="#111" stroke="#111" text-anchor="start">8.00<tspan dx="1.1">”</tspan></text>
<rect x="401" y="550.5" width="57.5" height="20.5" fill="#fff"/>
<text x="406" y="567.6" font-size="16.6" fill="#111" stroke="#111" text-anchor="start">27.75<tspan dx="1.1">”</tspan></text>
<text x="148.7" y="329.1" font-size="17" fill="#e8141c" stroke="#e8141c" text-anchor="start">A</text>
<text x="149.2" y="373.6" font-size="16.2" fill="#e8141c" stroke="#e8141c" text-anchor="start">B</text>
<text x="149.2" y="430" font-size="16.2" fill="#e8141c" stroke="#e8141c" text-anchor="start">B</text>
<text x="149.2" y="487.4" font-size="16.2" fill="#e8141c" stroke="#e8141c" text-anchor="start">B</text>
<text x="350.2" y="383" font-size="17" fill="#e8141c" stroke="#e8141c" text-anchor="start">A</text>
<text x="351.4" y="428.4" font-size="16.2" fill="#e8141c" stroke="#e8141c" text-anchor="start">B</text>
<text x="351.4" y="484.8" font-size="16.2" fill="#e8141c" stroke="#e8141c" text-anchor="start">B</text>
<text x="351.4" y="542.2" font-size="16.2" fill="#e8141c" stroke="#e8141c" text-anchor="start">B</text>
<line x1="480.3" y1="396.3" x2="480.3" y2="434.3" stroke="#333" stroke-width="1.2"/>
<polygon points="480.3,434.3 476.3,427.3 484.3,427.3" fill="#1a1a1a"/>
<polygon points="480.3,396.3 484.3,403.3 476.3,403.3" fill="#1a1a1a"/>
<line x1="480.3" y1="442.2" x2="480.3" y2="492.8" stroke="#333" stroke-width="1.2"/>
<polygon points="480.3,492.8 476.3,485.8 484.3,485.8" fill="#1a1a1a"/>
<polygon points="480.3,442.2 484.3,449.2 476.3,449.2" fill="#1a1a1a"/>
<line x1="301.5" y1="545.4" x2="494.9" y2="597.5" stroke="#333" stroke-width="1.2"/>
<polygon points="494.9,597.5 487.1,599.54 489.18,591.82" fill="#1a1a1a"/>
<polygon points="301.5,545.4 309.3,543.36 307.22,551.08" fill="#1a1a1a"/>
</svg>
</body></html>
